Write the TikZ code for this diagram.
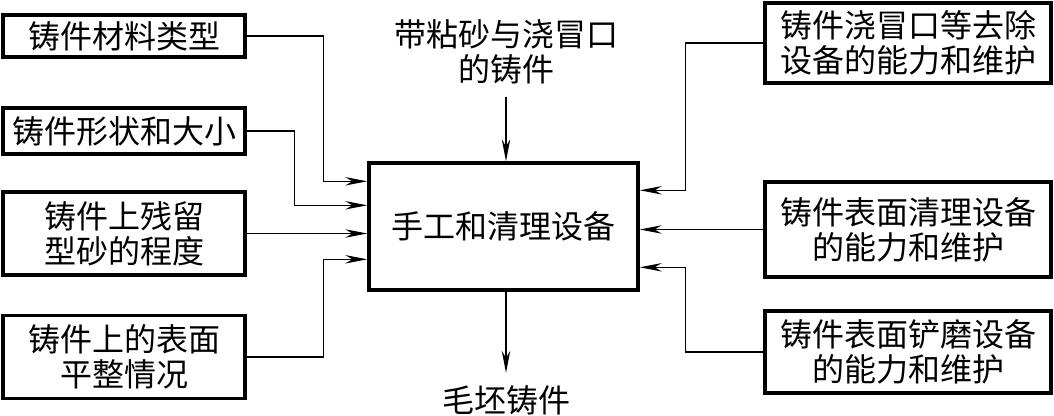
\documentclass[tikz,border=0pt]{standalone}
\usepackage{fontspec}
\newfontfamily\cjk{Noto Sans CJK SC}
\usetikzlibrary{positioning,calc,arrows.meta}

\begin{document}
\begin{tikzpicture}[x=0.5pt,y=-0.5pt,
  font=\cjk\fontsize{16}{17.5}\selectfont,
  factor/.style={draw,line width=1.7pt,align=center,inner sep=3pt},
  label/.style={align=center,inner sep=6pt},
  feed/.style={line width=0.65pt,-{Stealth[length=11pt,width=4.2pt,inset=3.5pt]}}]
\useasboundingbox (0,0) rectangle (1054,416);
% centre
\node[factor,minimum width=134.5pt,minimum height=63.5pt] (c) at (503.5,226.5) {手工和清理设备};
\node[label] (in) at (506,52) {带粘砂与浇冒口\\的铸件};
\node[label] (out) at (506,400) {毛坯铸件};
% left side
\node[factor,minimum width=121pt,minimum height=21pt] (l1) at (124,36) {铸件材料类型};
\node[factor,minimum width=121pt,minimum height=23pt] (l2) at (124,131) {铸件形状和大小};
\node[factor,minimum width=121pt,minimum height=41.5pt] (l3) at (124,233.5) {铸件上残留\\型砂的程度};
\node[factor,minimum width=121pt,minimum height=41.5pt] (l4) at (124,357) {铸件上的表面\\平整情况};
% right side
\node[factor,minimum width=143pt,minimum height=40pt] (r1) at (908,43) {铸件浇冒口等去除\\设备的能力和维护};
\node[factor,minimum width=143pt,minimum height=47.5pt] (r2) at (908,229.5) {铸件表面清理设备\\的能力和维护};
\node[factor,minimum width=143pt,minimum height=41pt] (r3) at (908,352) {铸件表面铲磨设备\\的能力和维护};
\coordinate (cw1) at ($(c.north west)+(0,20)$);
\coordinate (cw2) at ($(c.north west)+(0,44)$);
\coordinate (cw4) at ($(c.north west)+(0,98)$);
\coordinate (ce1) at ($(c.north east)+(0,29)$);
\coordinate (ce3) at ($(c.north east)+(0,106)$);
\draw[feed] (l1.east) -- ++(77,0) |- (cw1);
\draw[feed] (l2.east) -- ++(48,0) |- (cw2);
\draw[feed] (l3.east) -- (l3.east -| c.west);
\draw[feed] (l4.east) -- ++(77,0) |- (cw4);
\draw[feed] (r1.west) -- ++(-78,0) |- (ce1);
\draw[feed] (r2.west) -- (r2.west -| c.east);
\draw[feed] (r3.west) -- ++(-78,0) |- (ce3);
\draw[feed] (in.south) -- (in.south |- c.north);
\draw[feed] (out.north |- c.south) -- (out.north);
\end{tikzpicture}
\end{document}
